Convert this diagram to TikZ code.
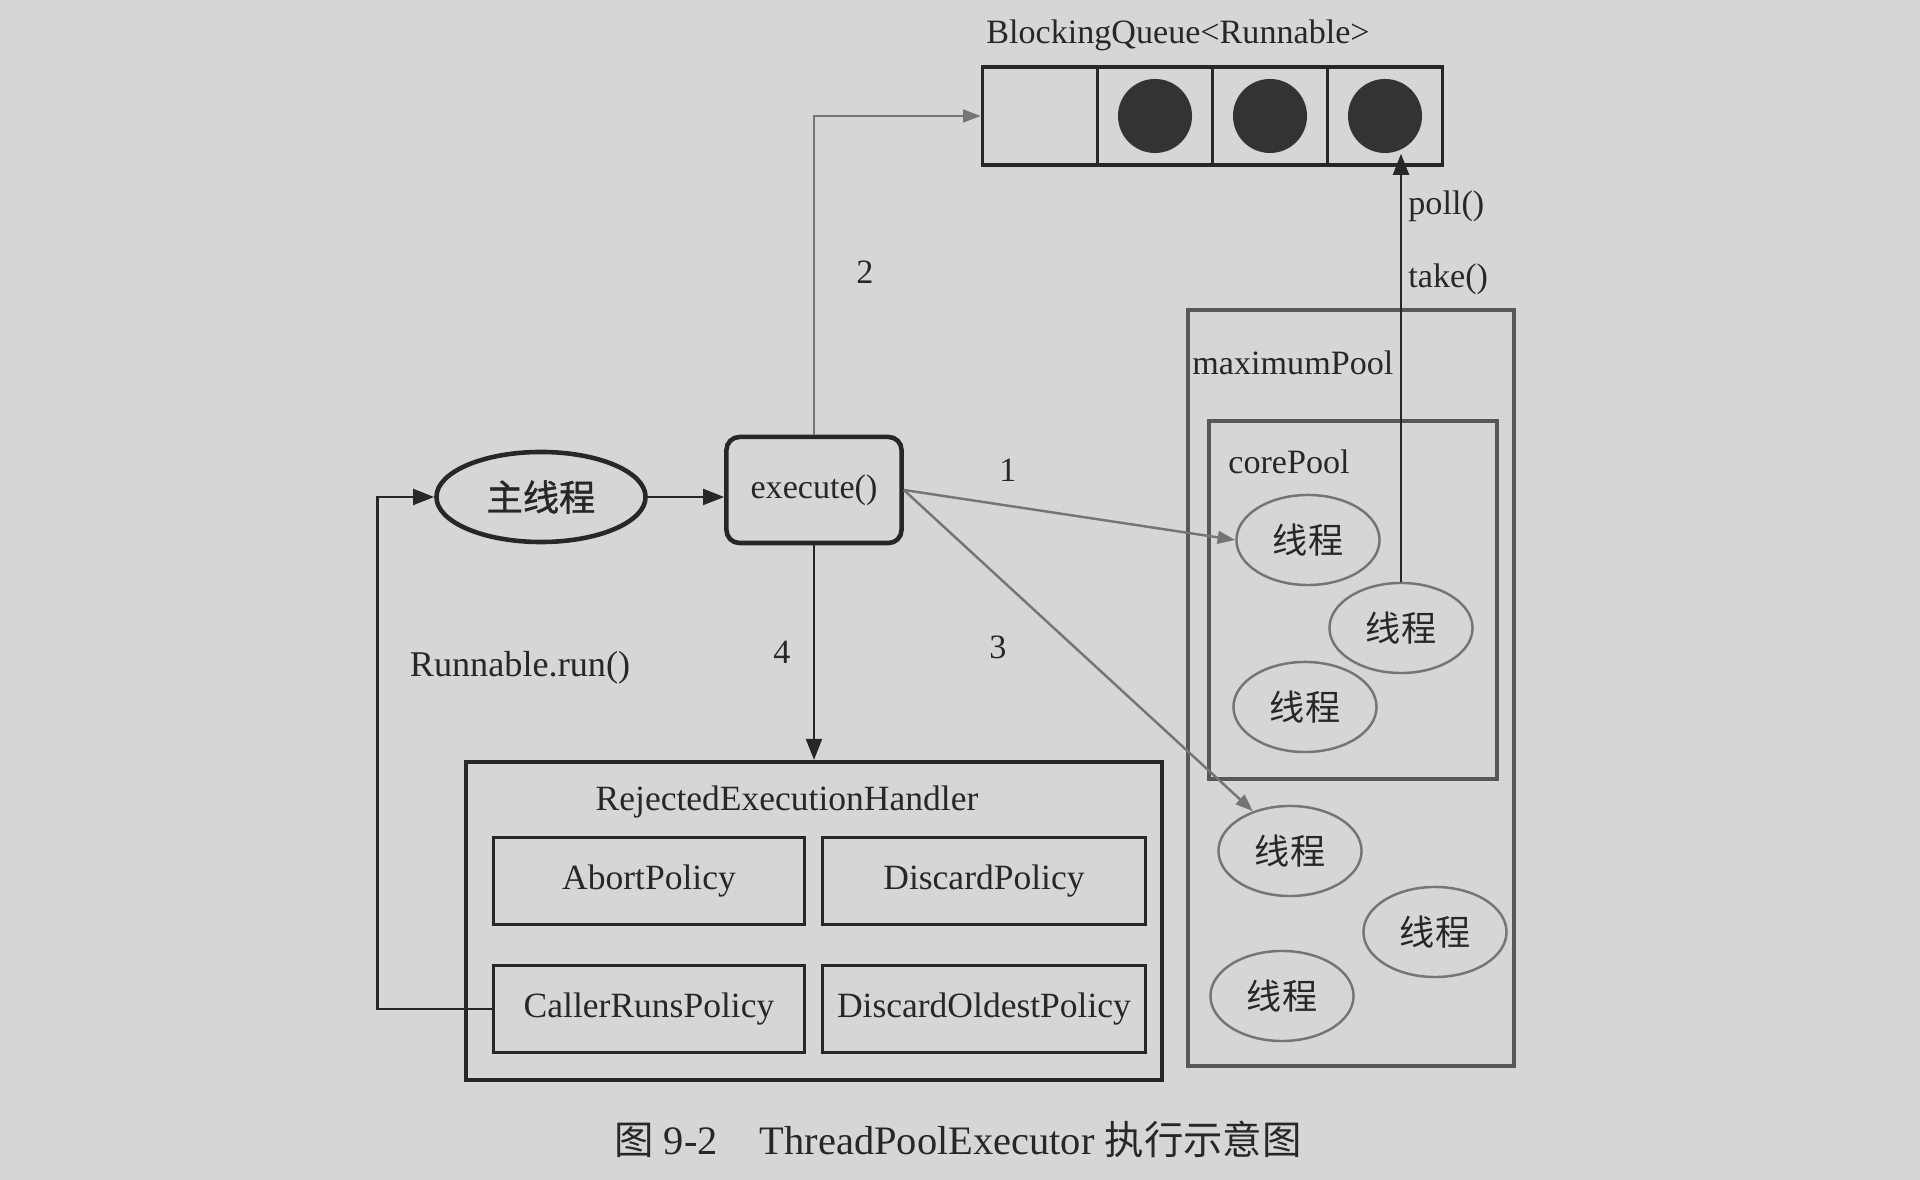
\documentclass[tikz,border=0pt]{standalone}
\usepackage{fontspec}
\setmainfont{Liberation Serif}
\newfontfamily\cjk{Noto Sans CJK SC}
\newfontfamily\cjkheavy[FakeBold=1.2]{Noto Sans CJK SC}
\usetikzlibrary{shapes.geometric, arrows.meta, positioning, calc}
\definecolor{pagegray}{RGB}{216, 213, 217}
\definecolor{inkdark}{RGB}{40, 38, 40}
\definecolor{inkgray}{RGB}{118, 116, 118}
\definecolor{poolgray}{RGB}{88, 86, 88}
\definecolor{ballfill}{RGB}{52, 50, 52}

\begin{document}
\begin{tikzpicture}[x=0.01cm, y=-0.01cm,
  every node/.style={text=inkdark, font=\fontsize{9.7}{11}\selectfont},
  cjktext/.style={font=\cjk\fontsize{10}{12}\selectfont},
  cell/.style={draw=inkdark, line width=1pt, minimum width=1.15cm, minimum height=0.98cm, inner sep=0pt},
  ball/.style={circle, fill=ballfill, minimum size=0.74cm, inner sep=0pt},
  thread/.style={ellipse, draw=inkgray, line width=0.7pt, minimum width=1.43cm, minimum height=0.9cm, inner sep=0pt, cjktext},
  pool/.style={draw=poolgray, line width=1.1pt, inner sep=0pt},
  policy/.style={draw=inkdark, line width=1pt, minimum height=0.87cm, inner sep=0pt, font=\fontsize{10.1}{12}\selectfont},
  blackarrow/.style={draw=inkdark, line width=0.8pt, -{Triangle[length=6pt, width=4.5pt]}},
  grayarrow/.style={draw=inkgray, line width=0.7pt, -{Triangle[length=5pt, width=3.6pt]}}]
  \fill[pagegray] (0,0) rectangle (1920,1180);
  \useasboundingbox (0,0) rectangle (1920,1180);

  % queue
  \node (qlabel) at (1178,35) {BlockingQueue<Runnable>};
  \foreach \i/\cx in {1/1040, 2/1155, 3/1270, 4/1385} {
    \node[cell] (q\i) at (\cx,116) {};
  }
  \foreach \i in {2,3,4} {
    \node[ball] (b\i) at (q\i) {};
  }

  % pools
  \node[pool, minimum width=3.26cm, minimum height=7.56cm] (maxpool) at (1351,688) {};
  \node[anchor=west] (maxlabel) at (1180,363) {maximumPool};
  \node[pool, minimum width=2.87cm, minimum height=3.57cm] (corepool) at (1353,600) {};
  \node[anchor=west] (corelabel) at (1216,462) {corePool};
  \node[thread] (t1) at (1308,540) {线程};
  \node[thread] (t2) at (1401,628) {线程};
  \node[thread] (t3) at (1305,707) {线程};
  \node[thread] (t4) at (1290,851) {线程};
  \node[thread] (t5) at (1435,932) {线程};
  \node[thread] (t6) at (1282,996) {线程};

  % main thread and execute
  \node[ellipse, draw=inkdark, line width=1.3pt, minimum width=2.09cm, minimum height=0.9cm, font=\cjkheavy\fontsize{10.3}{12}\selectfont] (mainthread) at (541,497) {主线程};
  \node[draw=inkdark, line width=1.3pt, rounded corners=0.13cm, minimum width=1.75cm, minimum height=1.06cm] (exec) at (814,490) {execute()};

  % rejected handler
  \node[draw=inkdark, line width=1.1pt, minimum width=6.96cm, minimum height=3.18cm] (handler) at (814,921) {};
  \node[font=\fontsize{10.1}{12}\selectfont] (htitle) at (787,802) {RejectedExecutionHandler};
  \node[policy, minimum width=3.11cm] (abort) at (649,881) {AbortPolicy};
  \node[policy, minimum width=3.23cm] (discard) at (984,881) {DiscardPolicy};
  \node[policy, minimum width=3.11cm] (callerruns) at (649,1009) {CallerRunsPolicy};
  \node[policy, minimum width=3.23cm] (discardoldest) at (984,1009) {DiscardOldestPolicy};

  % connectors
  \draw[blackarrow] (mainthread) -- (mainthread -| exec.west);
  \draw[grayarrow] (exec.north) |- (q1.west);
  \draw[grayarrow] (exec.east) -- (t1.west);
  \draw[grayarrow] (exec.east) -- (t4.133);
  \draw[blackarrow] (exec.south) -- (handler.north);
  \draw[blackarrow] (t2.north) -- (t2.north |- b4.south);
  \draw[blackarrow] (callerruns.west) -- ++(-114,0) |- (mainthread.west);

  \node (n1) at (1008,470) {1};
  \node (n2) at (865,272) {2};
  \node (n3) at (998,647) {3};
  \node (n4) at (782,652) {4};
  \node[font=\fontsize{10.3}{12}\selectfont] (runlabel) at (520,668) {Runnable.run()};
  \node[anchor=west] (polllabel) at (1396,206) {poll()};
  \node[anchor=west] (takelabel) at (1396,279) {take()};

  \node[font=\fontsize{11.5}{13}\selectfont] (caption) at (958,1139) {{\cjk\fontsize{11.2}{13}\selectfont 图} 9-2\hspace{0.42cm}ThreadPoolExecutor {\cjk\fontsize{11.2}{13}\selectfont 执行示意图}};
\end{tikzpicture}
\end{document}
